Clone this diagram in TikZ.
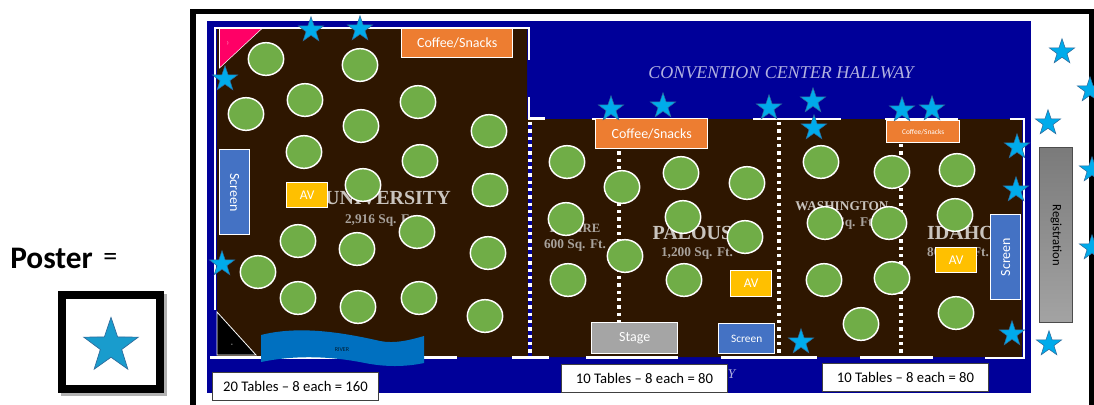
\documentclass[tikz,border=0pt]{standalone}
\usepackage{fontspec}
\setmainfont{Carlito}
\newfontfamily\serifghost{Liberation Serif}
\usetikzlibrary{shapes.geometric,shadows}
\definecolor{hallblue}{HTML}{000099}
\definecolor{roombrown}{HTML}{2E1600}
\definecolor{tablegreen}{HTML}{70AD47}
\definecolor{boxorange}{HTML}{ED7D31}
\definecolor{avyellow}{HTML}{FFC000}
\definecolor{screenblue}{HTML}{4472C4}
\definecolor{stageGray}{HTML}{A5A5A5}
\definecolor{starblue}{HTML}{00ABEB}
\definecolor{stardark}{HTML}{2F6A9A}
\definecolor{riverblue}{HTML}{0070C0}
\definecolor{ghost}{HTML}{C9C4BE}
\definecolor{ghostdim}{HTML}{A8A29C}
\definecolor{pinkcorner}{HTML}{FF0066}
\tikzset{
  px/.style={x=0.75pt,y=-0.75pt},
  tablecirc/.style={ellipse,draw=white,line width=1.1pt,fill=tablegreen,minimum width=26.5pt,minimum height=24.5pt,inner sep=0pt},
  poster/.style={star,star points=5,star point ratio=2.55,fill=starblue,draw=stardark,line width=0.4pt,minimum size=20pt,inner sep=0pt},
  wall/.style={draw=white,line width=2.2pt},
  partition/.style={draw=white,line width=2.6pt,dash pattern=on 2.6pt off 2.9pt},
  labelbox/.style={draw=white,line width=1pt,text=white,inner sep=0pt,anchor=north west,align=center},
  countbox/.style={draw=black!75,line width=0.7pt,text=black,font=\fontsize{11}{13}\selectfont},
  ghosthead/.style={text=ghost,font=\serifghost\bfseries\fontsize{15}{17}\selectfont,inner sep=0pt},
  ghostsub/.style={text=ghostdim,font=\serifghost\bfseries\fontsize{10}{12}\selectfont,inner sep=0pt},
}
\newcommand{\pxbox}[8]{% name,x0,y0,x1,y1,style,fill,text
  \pgfmathsetlengthmacro{\pxw}{(#4-#2)*0.75pt}%
  \pgfmathsetlengthmacro{\pxh}{(#5-#3)*0.75pt}%
  \node[labelbox,#6,fill=#7,minimum width=\pxw,minimum height=\pxh] (#1) at (#2,#3) {#8};}
\begin{document}
\begin{tikzpicture}[px]
\useasboundingbox (0,0) rectangle (1094,404);
% venue frame
\fill[white] (0,0) rectangle (1094,404);
\draw[black,line width=4.2pt] (193,420) -- (193,11.5) -- (1092,11.5) -- (1092,420);
\fill[hallblue] (207,21) rectangle (1031,393);
% rooms
\fill[roombrown] (217,29) -- (527,29) -- (527,119) -- (1022,119) -- (1022,357) -- (217,357) -- cycle;
% walls
\draw[wall] (215,310) -- (215,28) -- (529,28) -- (529,60);
\draw[wall] (529,97) -- (529,118.5) -- (545,118.5);
\draw[wall] (592,119) -- (706,119);
\draw[wall] (753,119) -- (841,119);
\draw[wall] (885,119) -- (958,119);
\draw[wall] (1010,119) -- (1024,119) -- (1024,358) -- (985,358);
\draw[wall] (210,357.5) -- (457,357.5);
\draw[wall] (512,357.5) -- (549,357.5);
\draw[wall] (586,357.5) -- (678,357.5);
\draw[wall] (721,357.5) -- (817,357.5);
\draw[wall] (860,357.5) -- (933,357.5);
% movable partitions
\coordinate (p1t) at (530,122); \coordinate (p1b) at (530,356);
\coordinate (p2t) at (619,122); \coordinate (p2b) at (619,356);
\coordinate (p3t) at (779,122); \coordinate (p3b) at (779,356);
\coordinate (p4t) at (901,122); \coordinate (p4b) at (901,356);
\draw[draw=hallblue,line width=3.6pt] (p1t) -- (p1b);
\draw[partition] (p1t) -- (p1b);
\draw[partition] (p2t) -- (p2b);
\draw[partition] (p3t) -- (p3b);
\draw[partition] (p4t) -- (p4b);
% corner triangles
\fill[draw=white,line width=0.6pt,fill=black] (217,312) -- (256,355) -- (217,355) -- cycle;
\fill[draw=white,line width=0.4pt,fill=pinkcorner] (219.5,28.5) -- (262,28.5) -- (219.5,68) -- cycle;
\node[text=white,font=\fontsize{3}{3}\selectfont,inner sep=0pt] (pinkmark) at (228,43) {)};
\node[text=white,font=\fontsize{5}{5}\selectfont,inner sep=0pt] (blackmark) at (232,345) {-};
% room names
\node[text=white!70!hallblue,font=\serifghost\itshape\fontsize{13.5}{15}\selectfont,inner sep=0pt] (hall) at (781,73) {CONVENTION CENTER HALLWAY};
\node[text=white!70!hallblue,font=\serifghost\itshape\fontsize{10}{12}\selectfont,inner sep=0pt,anchor=west] (hallb) at (727.5,374) {Y};
\node[ghosthead] (univ) at (388,198) {UNIVERSITY};
\node[ghostsub] (univs) at (381,220) {2,916 Sq. Ft.};
\node[ghostsub,font=\serifghost\bfseries\fontsize{9.5}{11}\selectfont] (emp) at (575,228) {EMPIRE};
\node[ghostsub] (emps) at (575,245) {600 Sq. Ft.};
\node[ghosthead] (pal) at (699,233) {PALOUSE};
\node[ghostsub] (pals) at (697,253) {1,200 Sq. Ft.};
\node[ghostsub,text=ghost] (wash) at (842,206) {WASHINGTON};
\node[ghostsub] (washs) at (845,223) {800 Sq. Ft.};
\node[ghosthead] (ida) at (961,233) {IDAHO};
\node[ghostsub] (idas) at (958,253) {800 Sq. Ft.};
% river
\fill[riverblue] (261,335) .. controls (300,325) and (345,333) .. (380,341) .. controls (395,344) and (410,340) .. (424,336) -- (424,363) .. controls (405,367) and (385,367) .. (365,363) .. controls (330,356) and (295,355) .. (261,362) -- cycle;
\node[text=black!75!riverblue,font=\fontsize{4.5}{5}\selectfont,inner sep=0pt] (river) at (342,350) {RIVER};
% tables
\foreach \x/\y [count=\i] in {266/59,360/65,305/100,246/114,418/102,361/126,489/131,304/152,420/161,363/185,490/190,298/241,357/249,417/232,488/253,258/272,298/298,358/307,419/298,485/316,
  567/162,622/187,681/173,747/183,566/219,683/217,745/237,625/256,568/280,684/280,
  821/162,892/172,957/170,825/223,889/223,955/215,824/280,892/278,861/324,956/313}
  \node[tablecirc] (table\i) at (\x,\y) {};
% boxes
\pxbox{coffeeA}{401}{28}{512}{57}{font=\fontsize{10.5}{12}\selectfont}{boxorange}{Coffee/Snacks}
\pxbox{coffeeB}{595}{118}{707}{148}{font=\fontsize{10.5}{12}\selectfont}{boxorange}{Coffee/Snacks}
\pxbox{coffeeC}{886}{120}{959}{142}{font=\fontsize{5.5}{6}\selectfont}{boxorange}{Coffee/Snacks}
\pxbox{avA}{286}{182}{327}{207}{font=\fontsize{10}{12}\selectfont}{avyellow}{AV}
\pxbox{avB}{730}{270}{771}{296}{font=\fontsize{10}{12}\selectfont}{avyellow}{AV}
\pxbox{avC}{935}{247}{976}{272}{font=\fontsize{10}{12}\selectfont}{avyellow}{AV}
\pxbox{stage}{591}{322}{677}{353}{font=\fontsize{10.5}{12}\selectfont}{stageGray}{Stage}
\pxbox{screenB}{718}{323}{774}{353}{font=\fontsize{8.5}{10}\selectfont}{screenblue}{Screen}
\pxbox{screenA}{219}{149}{249}{234}{}{screenblue}{}
\node[text=white,rotate=-90,font=\fontsize{10.5}{12}\selectfont,inner sep=0pt] (screenAt) at (screenA.center) {Screen};
\pxbox{screenC}{990}{214}{1020}{299}{}{screenblue}{}
\node[text=white,rotate=90,font=\fontsize{10.5}{12}\selectfont,inner sep=0pt] (screenCt) at (screenC.center) {Screen};
\pxbox{reg}{1039}{147}{1072}{322}{draw=black!70,line width=0.8pt,top color=black!52,bottom color=black!36}{black!45}{}
\node[text=black,rotate=-90,font=\fontsize{9.5}{11}\selectfont,inner sep=0pt] (regt) at (reg.center) {Registration};
\pxbox{countA}{212}{372}{378}{400}{countbox}{white}{20 Tables -- 8 each = 160}
\pxbox{countB}{561}{364}{727}{392}{countbox}{white}{10 Tables -- 8 each = 80}
\pxbox{countC}{822}{363}{988}{391}{countbox}{white}{10 Tables -- 8 each = 80}
% posters
\foreach \x/\y [count=\i] in {311/30,360/29,225/79,222/264,611/109,663/106,769/108,813/101,814/128,902/110,932/109,1017/147,1016/190,1048/123,801/342,1012/334,1049/344,1062/52,1090/90,1092/170,1092/248}
  \node[poster] (poster\i) at (\x,\y) {};
% legend
\node[anchor=west,inner sep=0pt,font=\bfseries\fontsize{23.5}{26}\selectfont] (legendt) at (10,258) {Poster};
\node[anchor=west,inner sep=0pt,font=\fontsize{21}{24}\selectfont] (legendeq) at (103,259) {=};
\fill[black!30] (61,294) rectangle (167,396);
\fill[black] (58,291) rectangle (164,393);
\fill[white] (66,299) rectangle (156,385);
\node[poster,minimum size=43pt,fill=starblue!85!black!90,line width=0.5pt] (legendstar) at (111,346) {};
\end{tikzpicture}
\end{document}
